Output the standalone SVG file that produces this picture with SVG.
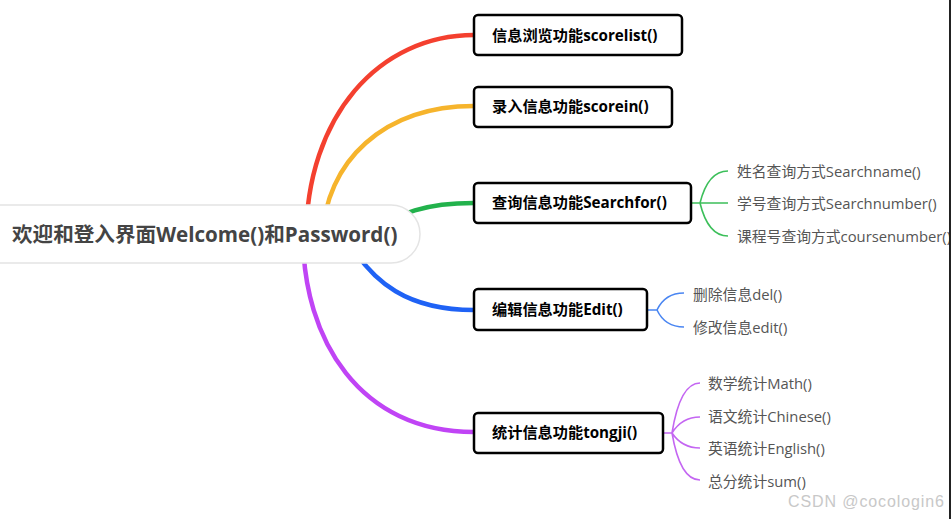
<svg xmlns="http://www.w3.org/2000/svg" width="951" height="519" viewBox="0 0 951 519">
<style>
.main{fill:none;stroke-width:4.5;stroke-linecap:round}
.sub{fill:none;stroke-width:1.6}
.box{fill:#fff;stroke:#000;stroke-width:2.5}
.bt{font-family:"Open Sans","Noto Sans CJK SC",sans-serif;font-weight:bold;font-size:15.2px;fill:#000}
.st{font-family:"Open Sans","Noto Sans CJK SC",sans-serif;font-size:14.8px;fill:#555}
.rt{font-family:"Open Sans","Noto Sans CJK SC",sans-serif;font-weight:bold;font-size:20.6px;fill:#444}
</style>
<rect width="951" height="519" fill="#fff"/>
<g id="connectors">
<path class="main" stroke="#f4402f" d="M306,240 C306,115 380,35 474,35"/>
<path class="main" stroke="#f6b42c" d="M322,240 C325,160 385,106 474,106"/>
<path class="main" stroke="#22b24c" d="M370,232 C400,213 425,203 474,203"/>
<path class="main" stroke="#1f62f5" d="M345,235 C372,285 410,310 474,310"/>
<path class="main" stroke="#c044f5" d="M303,235 C303,340 360,432 474,432"/>
<path class="sub" stroke="#3cbf5a" d="M691,203 L700,203 M700,203 Q708,171 728,171 M700,203 L728,203 M700,203 Q708,236 728,236"/>
<path class="sub" stroke="#4a86f2" d="M647,310 L657,310 M657,310 Q665,293 684,293 M657,310 Q665,327 684,327"/>
<path class="sub" stroke="#c466f2" d="M663,433 L672,433 M672,433 Q680,383 700,383 M672,433 Q682,417 700,417 M672,433 Q682,448 700,448 M672,433 Q680,480 700,480"/>
</g>
<g id="root">
<rect x="-30" y="205" width="450" height="58" rx="29" fill="#fff" stroke="#e4e4e4" stroke-width="1.5"/>
<text class="rt" x="12" y="242">欢迎和登入界面Welcome()和Password()</text>
</g>
<g id="n1">
<rect class="box" x="474" y="15" width="208" height="40" rx="4"/>
<text class="bt" x="492" y="41">信息浏览功能scorelist()</text>
</g>
<g id="n2">
<rect class="box" x="474" y="87" width="198" height="40" rx="4"/>
<text class="bt" x="492" y="112">录入信息功能scorein()</text>
</g>
<g id="n3">
<rect class="box" x="474" y="183" width="217" height="40" rx="4"/>
<text class="bt" x="492" y="208">查询信息功能Searchfor()</text>
</g>
<g id="n4">
<rect class="box" x="474" y="289" width="173" height="41" rx="4"/>
<text class="bt" x="492" y="315">编辑信息功能Edit()</text>
</g>
<g id="n5">
<rect class="box" x="474" y="413" width="189" height="40" rx="4"/>
<text class="bt" x="492" y="438">统计信息功能tongji()</text>
</g>
<g id="s31"><text class="st" x="737" y="177">姓名查询方式Searchname()</text></g>
<g id="s32"><text class="st" x="737" y="209">学号查询方式Searchnumber()</text></g>
<g id="s33"><text class="st" x="737" y="242">课程号查询方式coursenumber()</text></g>
<g id="s41"><text class="st" x="693" y="300">删除信息del()</text></g>
<g id="s42"><text class="st" x="693" y="333">修改信息edit()</text></g>
<g id="s51"><text class="st" x="708" y="389">数学统计Math()</text></g>
<g id="s52"><text class="st" x="708" y="422">语文统计Chinese()</text></g>
<g id="s53"><text class="st" x="708" y="454">英语统计English()</text></g>
<g id="s54"><text class="st" x="708" y="487">总分统计sum()</text></g>
<text x="788" y="507" font-family="Liberation Sans, Arial, sans-serif" font-size="16" fill="#c8c8c8" letter-spacing="0.9">CSDN @cocologin6</text>
<rect x="949" y="0" width="2" height="519" fill="#222"/>
</svg>
